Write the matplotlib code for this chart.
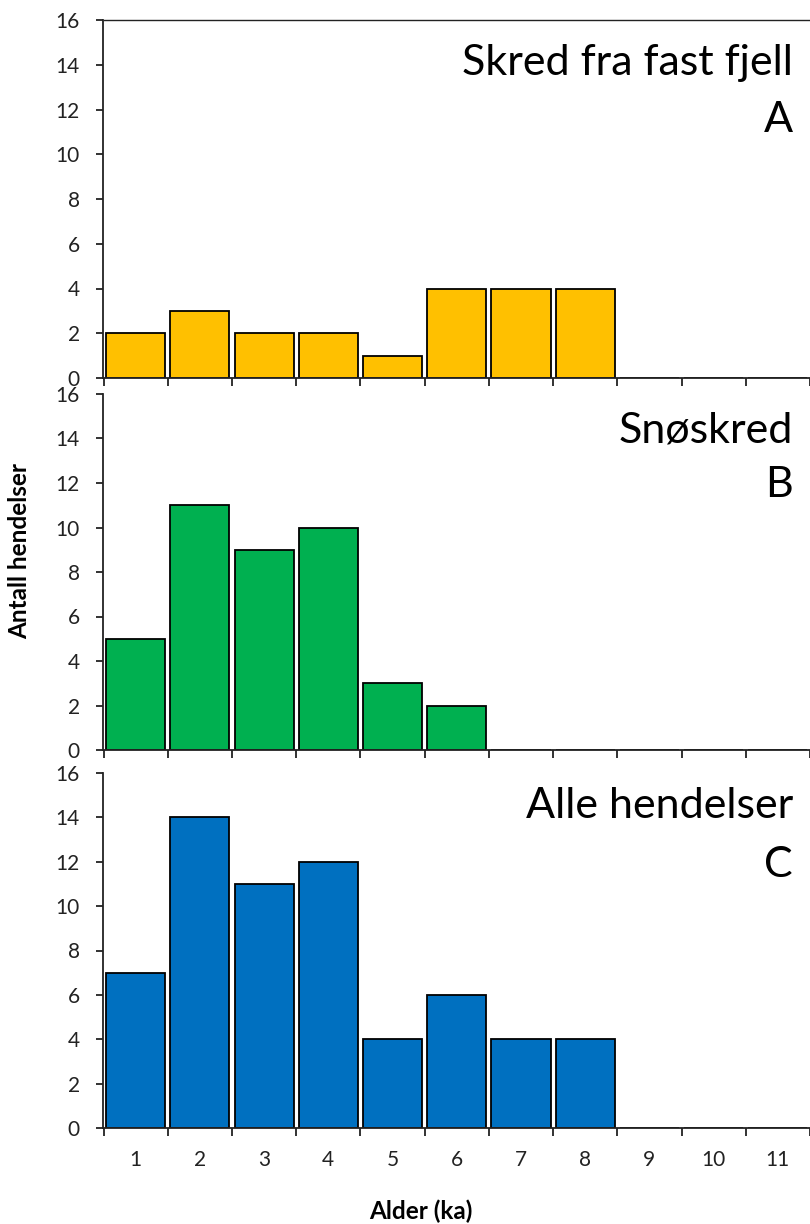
import matplotlib
matplotlib.use("Agg")
import matplotlib.pyplot as plt
import numpy as np

ages = [1, 2, 3, 4, 5, 6, 7, 8, 9, 10, 11]
rock = [2, 3, 2, 2, 1, 4, 4, 4, 0, 0, 0]
snow = [5, 11, 9, 10, 3, 2, 0, 0, 0, 0, 0]
alle = [7, 14, 11, 12, 4, 6, 4, 4, 0, 0, 0]
titles = ["Skred fra fast fjell", "Snøskred", "Alle hendelser"]
letters = ["A", "B", "C"]
colors = ["#FFC000", "#00B050", "#0070C0"]
yticks = [0, 2, 4, 6, 8, 10, 12, 14, 16]

plt.rcParams['font.family'] = ['Lato', 'DejaVu Sans']

W, H = 810, 1224
fig = plt.figure(figsize=(W / 100, H / 100), dpi=100)

left_px = 103.5
cat_px = 64.9
xmax = 0.5 + (W - left_px) / cat_px

# (top_px, bottom_px) of each panel
panels = [(20, 378), (394, 750), (773, 1128)]
series = [rock, snow, alle]
# baselines of title and letter (pixels)
text_pos = [(75, 132), (442, 497), (818, 877)]

for i, ((t, b), vals) in enumerate(zip(panels, series)):
    ax = fig.add_axes([left_px / W, 1 - b / H, (W - left_px) / W, (b - t) / H])
    ax.bar(ages, vals, width=0.92, color=colors[i], edgecolor="black", linewidth=1.3, zorder=2)
    ax.set_xlim(0.5, xmax)
    ax.set_ylim(0, 16)
    ax.set_yticks(yticks)
    ax.tick_params(axis='y', direction='out', length=5, width=1.3, labelsize=15, pad=12,
                   colors='#222222')
    # x ticks at category boundaries, labels at centers
    ax.set_xticks(np.arange(0.5, 12, 1.0))
    ax.set_xticklabels([])
    ax.tick_params(axis='x', which='major', direction='out', length=6, width=1.3, color='#222222')
    if i == 2:
        ax.set_xticks(ages, minor=True)
        ax.set_xticklabels([str(a) for a in ages], minor=True)
        ax.tick_params(axis='x', which='minor', length=0, labelsize=15, pad=16, labelcolor='#222222')
    ax.spines['right'].set_visible(False)
    ax.spines['top'].set_visible(i == 0)
    for s in ['left', 'bottom', 'top']:
        ax.spines[s].set_linewidth(1.3)
        ax.spines[s].set_color('#222222')
    ax.spines['top'].set_linewidth(1.0)
    tb, lb = text_pos[i]
    fig.text(793 / W, 1 - tb / H, titles[i], ha='right', va='baseline', fontsize=31, color='black')
    fig.text(793 / W, 1 - lb / H, letters[i], ha='right', va='baseline', fontsize=31, color='black')

fig.text(20 / W, 1 - 551 / H, "Antall hendelser", rotation=90, ha='center', va='center',
         fontsize=17.5, fontweight='bold')
fig.text(421 / W, 1 - 1211 / H, "Alder (ka)", ha='center', va='center',
         fontsize=17.5, fontweight='bold')

fig.savefig("out.png", dpi=100)
